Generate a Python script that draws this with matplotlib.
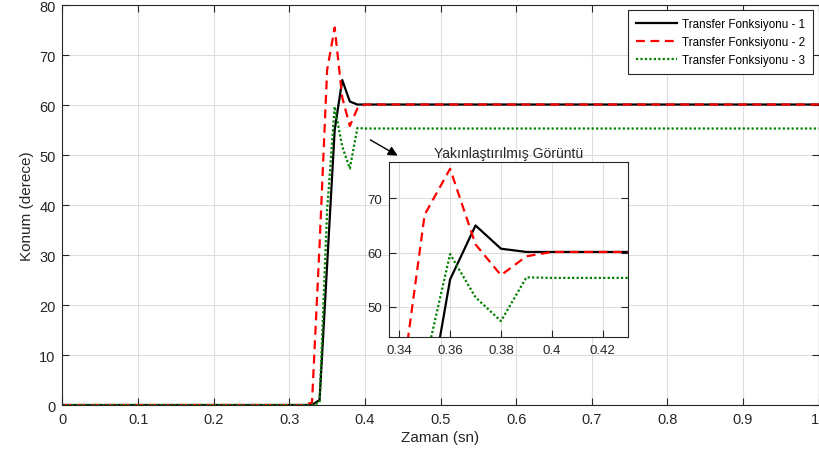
import matplotlib
matplotlib.use("Agg")
import matplotlib.pyplot as plt

# zaman noktalari (sn) ve konum degerleri (derece)
zaman = [0, 0.32, 0.33, 0.34, 0.35, 0.36, 0.37, 0.38, 0.39, 0.40, 1.0]
tf1 = [0, 0, 0, 1.0, 28, 55, 65, 60.7, 60.1, 60.1, 60.1]
tf2 = [0, 0, 0.5, 32, 67, 75.5, 61.5, 55.8, 59.3, 60.1, 60.1]
tf3 = [0, 0, 0, 0.5, 39, 59.7, 51.7, 47.3, 55.4, 55.3, 55.3]
etiketler = ["Transfer Fonksiyonu - 1", "Transfer Fonksiyonu - 2", "Transfer Fonksiyonu - 3"]

x_ticks = [0, 0.1, 0.2, 0.3, 0.4, 0.5, 0.6, 0.7, 0.8, 0.9, 1]
x_tick_labels = ["0", "0.1", "0.2", "0.3", "0.4", "0.5", "0.6", "0.7", "0.8", "0.9", "1"]
y_ticks = [0, 10, 20, 30, 40, 50, 60, 70, 80]

inset_x_ticks = [0.34, 0.36, 0.38, 0.40, 0.42]
inset_x_labels = ["0.34", "0.36", "0.38", "0.4", "0.42"]
inset_y_ticks = [50, 60, 70]

plt.rcParams['font.family'] = ['Liberation Sans', 'DejaVu Sans']
koyu = '#262626'


def stil(ax, fs):
    ax.grid(True, color='#dedede', linewidth=0.8)
    ax.set_axisbelow(True)
    ax.tick_params(direction='in', top=True, right=True, length=5,
                   width=0.8, colors=koyu, labelsize=fs, pad=5)
    for s in ax.spines.values():
        s.set_color(koyu)
        s.set_linewidth(0.8)


def ciz(ax):
    ax.plot(zaman, tf1, color='black', linestyle='-', linewidth=1.6, label=etiketler[0])
    ax.plot(zaman, tf2, color='red', linestyle=(0, (4, 2.5)), linewidth=1.6, label=etiketler[1])
    ax.plot(zaman, tf3, color='#008000', linestyle=(0, (1, 1)), linewidth=1.6, label=etiketler[2])


fig = plt.figure(figsize=(8.19, 4.56), dpi=100)
ax = fig.add_axes([0.0763, 0.1096, 0.9232, 0.8772])
ciz(ax)
ax.set_xlim(0, 1)
ax.set_ylim(0, 80)
ax.set_xticks(x_ticks)
ax.set_xticklabels(x_tick_labels)
ax.set_yticks(y_ticks)
stil(ax, 10.5)
# son etiket kenarda kesilmesin
ax.get_xticklabels()[-1].set_horizontalalignment('right')
ax.set_xlabel("Zaman (sn)", fontsize=11, color=koyu, labelpad=3)
ax.set_ylabel("Konum (derece)", fontsize=11, color=koyu, labelpad=4)

leg = ax.legend(loc='upper right', fontsize=8.4, frameon=True, fancybox=False,
                edgecolor=koyu, framealpha=1, handlelength=3.5, borderpad=0.7,
                labelspacing=0.5, handletextpad=0.45, borderaxespad=0.45)
leg.get_frame().set_linewidth(0.8)

ax.annotate("", xy=(0.4465, 49.6), xytext=(0.404, 53.3),
            arrowprops=dict(arrowstyle='-|>', color='black', lw=1.0,
                            mutation_scale=14))

# yakinlastirilmis goruntu
axi = fig.add_axes([0.4753, 0.2581, 0.2911, 0.3838])
ciz(axi)
axi.set_xlim(0.3361, 0.4298)
axi.set_ylim(44.3, 76.7)
axi.set_xticks(inset_x_ticks)
axi.set_xticklabels(inset_x_labels)
axi.set_yticks(inset_y_ticks)
stil(axi, 9.5)
axi.tick_params(top=False, right=True)
axi.set_title("Yakınlaştırılmış Görüntü", fontsize=10, color=koyu, pad=4)

fig.savefig("out.png", dpi=100)
